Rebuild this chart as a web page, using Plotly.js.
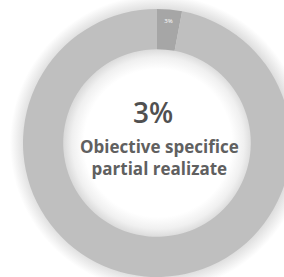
<!DOCTYPE html>
<html><head><meta charset="utf-8">
<script src="https://cdn.plot.ly/plotly-3.0.1.min.js"></script>
<style>
html,body{margin:0;padding:0;width:284px;height:277px;overflow:hidden;}
#wrap{position:relative;width:284px;height:277px;overflow:hidden;
background: radial-gradient(circle at 158px 143px, #ffffff 0px, #ffffff 74px, #f0f0f0 86px, #d6d6d6 96px, #d6d6d6 130px, #e4e4e4 136px, #ffffff 148px);}
#chart{position:absolute;left:0;top:0;}
</style></head>
<body><div id="wrap"><div id="chart"></div></div>
<script>
const labels = ["Obiective specifice partial realizate", "Rest"];
const values = [3, 97];
const sliceText = ["3%", ""];
const centerValue = "3%";
const centerLabel = ["Obiective specifice", "partial realizate"];

const W = 310, H = 290;
const data = [{
  type: 'pie',
  labels: labels,
  values: values,
  text: sliceText,
  textinfo: 'text',
  textposition: 'inside',
  insidetextorientation: 'horizontal',
  textfont: {family: 'Open Sans, sans-serif', size: 6, color: '#ffffff'},
  hole: 0.7,
  sort: false,
  direction: 'clockwise',
  rotation: 0,
  marker: {colors: ['#a6a6a6', '#bfbfbf'], line: {width: 0}},
  domain: {x: [23 / W, 291 / W], y: [(H - 277) / H, (H - 9) / H]},
  showlegend: false,
  hoverinfo: 'none'
}];
const layout = {
  width: W, height: H,
  margin: {l: 0, r: 0, t: 0, b: 0},
  paper_bgcolor: 'rgba(0,0,0,0)',
  plot_bgcolor: 'rgba(0,0,0,0)',
  showlegend: false,
  annotations: [
    {text: centerValue, x: 153 / W, y: (H - 112) / H, xref: 'paper', yref: 'paper', showarrow: false,
     font: {family: 'Open Sans, sans-serif', size: 28, color: '#505050', weight: 600}},
    {text: centerLabel.join('<br>'), x: 159 / W, y: (H - 157) / H, xref: 'paper', yref: 'paper', showarrow: false,
     align: 'center',
     font: {family: 'Open Sans, sans-serif', size: 17, color: '#606060', weight: 'bold'}}
  ]
};
Plotly.newPlot('chart', data, layout, {staticPlot: true, displayModeBar: false});
</script></body></html>
